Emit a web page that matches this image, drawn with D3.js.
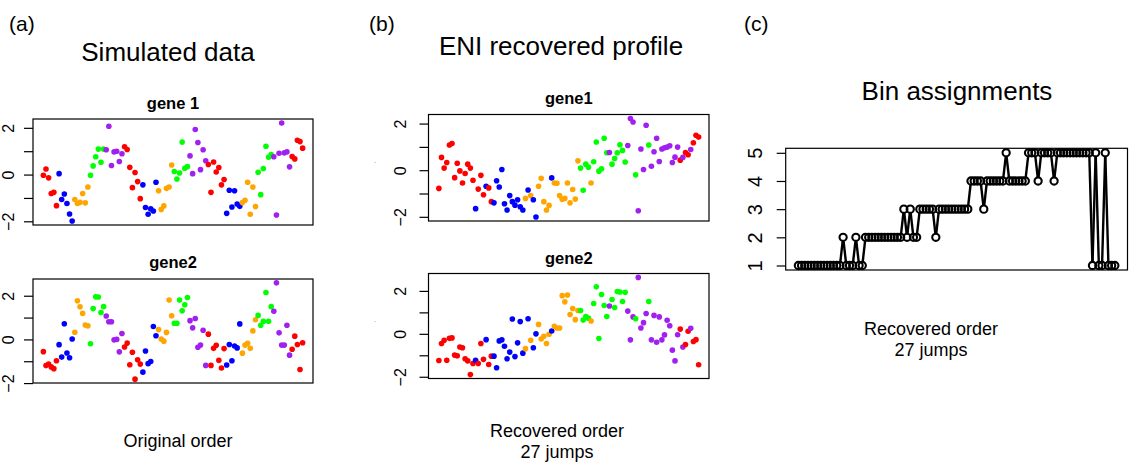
<!DOCTYPE html>
<html>
<head>
<meta charset="utf-8">
<script src="https://cdn.jsdelivr.net/npm/d3@7"></script>
<style>
  html, body { margin: 0; padding: 0; background: #fff; }
  svg { display: block; font-family: "Liberation Sans", Arial, Helvetica, sans-serif; }
</style>
</head>
<body>
<svg id="chart" width="1129" height="467"></svg>
<script>
// Bin labels 1..5 and the colour used for each bin
const binColors = ["#FF0000", "#0000FF", "#FFA500", "#00FF00", "#A020F0"];

// (a) simulated data in original order
const simBin = [
  1,1,1,1,1,1, 2,2,2,2,2,2, 3,3,3,3,3,3, 4,4,4,4,4,4, 5,5,5,5,5,5,5,
  1,1,1,1,1,1,1, 2,2,2,2,2,2, 3,3,3,3,3,3, 4,4,4,4,4,4, 5,5,5,5,5,5,5,
  1,1,1,1,1,1,1, 2,2,2,2,2,2, 3,3,3,3,3,3, 4,4,4,4,4,4, 5,5,5,5,5,5,5,
  1,1,1,1,1
];
const simGene1 = [
  -0.03, 0.24, -0.14, -0.81, -0.76, -1.33,
  0.04, -1.07, -0.83, -1.24, -1.69, -1.99,
  -1.07, -1.24, -1.19, -0.81, -1.21, -0.53,
  -0.03, 0.37, 0.76, 1.09, 0.53, 1.09,
  1.06, 2.07, 0.39, 0.97, 1.00, 0.56, 0.89,
  1.19, 1.07, 0.31, -0.56, 0.09, -0.30, -1.03,
  -0.44, -1.41, -1.70, -1.47, -1.56, -0.33,
  -0.69, -1.49, -1.34, -0.59, -0.53, 0.41,
  0.13, -0.19, 0.07, 1.39, 0.27, 0.34,
  0.80, 0.04, 1.93, 1.37, 0.21, 1.06, 0.59,
  0.43, -0.76, 0.54, 0.11, 0.30, -0.44, -0.21,
  -1.66, -0.67, -1.39, -0.69, -1.26, -1.36,
  -1.20, -1.10, -0.33, -1.70, -0.53, -1.37,
  0.10, -0.86, 0.26, 1.21, 0.74, 0.86,
  0.76, -1.73, 0.91, 2.21, 0.93, 0.97, 0.33,
  0.77, 0.67, 1.47, 1.41, 1.13
];
const simGene2 = [
  -0.56, -1.20, -1.13, -1.26, -1.34, -0.98,
  -0.24, -0.81, 0.72, -0.62, -0.84, 0.02,
  0.33, 1.77, 1.49, 1.19, 0.66, 0.62,
  -0.20, 1.41, 1.95, 1.94, 1.23, 1.50,
  1.07, 0.81, 0.81, -0.02, 0.00, -0.57, 0.27,
  -0.35, -0.17, -1.16, -0.59, -1.82, -0.93, -1.13,
  -1.50, -0.53, -1.11, -1.01, 0.59, 0.17,
  0.45, 0.02, -0.08, 0.32, 1.80, 1.08,
  0.74, 0.74, 1.80, 1.31, 1.59, 1.92,
  0.86, 0.53, 0.96, -0.36, -0.26, 0.42, -1.19,
  0.24, -1.19, -0.41, -0.27, -0.96, -1.31, -0.42,
  -1.17, -0.23, -0.98, -0.30, -0.39, 0.71,
  -0.63, -0.26, -0.18, -0.41, 0.39, 0.90,
  1.10, 0.65, 0.83, 2.15, 0.83, 1.50,
  1.29, 2.59, 0.30, -0.26, -0.26, 0.65, -0.72,
  -0.45, 0.15, -0.23, -1.38, -0.15
];

// (b)/(c) samples in the order recovered by ENI, with their bin labels
const recBin = [
  1,1,1,1,1,1,1,1,1,1,1,1,1,1, 2, 1,1,1, 2, 1,1,
  2,2,2,2,2,2,2,2,2,2,2,2, 3, 2, 3, 2,2, 3,3,3,3,3, 2,
  3,3,3,3,3,3,3,3,3,3, 4,4,4,4, 3, 4,4,4,4,4,4, 5,
  4,4,4,4,4,4, 5,5,5, 4, 5,5,5,5, 4, 5,5,5,5,5,5,5,5,5,5,5,
  1, 5, 1,1, 5, 1,1,1
];
const recGene1 = [
  -0.78, 0.55, 0.09, 0.33, 1.08, 1.14, -0.32, 0.30, -0.03, -0.55,
  -0.14, 0.26, 0.09, -0.43, -1.65, -0.81, -0.22, -1.05, -0.69, -0.76,
  -1.35, -1.40, -0.45, -0.72, 0.03, -1.44, -1.71, -1.09, -1.35, -1.50,
  -1.27, -1.57, -1.71, -1.21, -0.85, -1.09, -1.27, -2.01, -0.69, -0.35,
  -1.35, -1.71, -1.51, -0.33, -0.55, -0.56, -1.09, -1.25, -1.21, -0.55,
  -1.40, -0.83, -1.24, 0.40, 0.09, -0.86, 0.26, 0.13, -0.55, 0.36,
  1.21, -0.04, 0.06, 1.37, 0.75, 0.76, 0.26, 0.50, 0.75, 1.09,
  0.85, 0.35, 1.06, 2.22, 2.07, -0.20, -1.74, 0.91, 0.03, 1.93,
  1.08, 0.17, 0.79, 1.37, 0.37, 0.91, 0.96, 0.99, 1.05, 0.33,
  0.56, 0.99, 0.43, 0.55, 0.76, 0.66, 0.89, 1.18, 1.50, 1.42
];
const recGene2 = [
  -1.24, -0.45, -0.30, -1.23, -0.21, -0.19, -0.99, -1.02, -0.61, -0.65,
  -1.16, -1.26, -1.90, -1.38, -1.23, -1.38, -0.45, -1.19, -0.27, -1.43,
  -1.04, -1.04, -1.58, -0.33, -0.28, -0.58, -1.16, -0.85, 0.69, -1.06,
  -0.42, 0.57, -0.90, -0.69, 0.70, -0.30, -0.65, 0.00, 0.44, -0.24,
  -0.11, -0.45, -0.02, 0.13, 0.35, 0.27, 0.27, 1.78, 1.49, 1.81,
  0.90, 1.18, 0.66, 1.09, 1.09, 0.64, 0.81, 0.73, 0.60, 1.41,
  2.19, -0.22, 1.83, 1.32, 0.81, 1.30, 1.60, 1.23, 1.97, 1.95,
  1.51, 1.94, 1.06, -0.28, 0.79, 0.70, 2.63, 0.27, 0.52, 0.95,
  1.51, -0.28, 0.86, -0.39, 0.79, -0.28, -0.05, 0.63, 0.38, -0.76,
  -1.26, -0.04, 0.22, -0.61, -0.50, 0.12, 0.26, -0.36, -0.27, -1.44
];

const geneTicks = [-2, -1, 0, 1, 2];
const geneTickLabels = ["\u22122", "", "0", "", "2"];
const binTicks = [1, 2, 3, 4, 5];

const svg = d3.select("#chart");

// R-style axis range: data range widened by 4% on each side
function padded(lo, hi) {
  const r = hi - lo;
  return [lo - 0.04 * r, hi + 0.04 * r];
}

function frame(g, x0, x1, y0, y1) {
  g.append("rect")
    .attr("x", x0).attr("y", y0)
    .attr("width", x1 - x0).attr("height", y1 - y0)
    .attr("fill", "none").attr("stroke", "#000").attr("stroke-width", 1.2);
}

function leftAxis(g, y, x0, ticks, labels, gap, fontSize) {
  const ax = g.append("g")
    .attr("transform", `translate(${x0},0)`)
    .call(d3.axisLeft(y).tickValues(ticks).tickSize(9)
      .tickFormat((d, i) => labels[i]));
  ax.select(".domain").remove();
  ax.selectAll(".tick line").attr("stroke", "#000").attr("stroke-width", 1.2);
  ax.selectAll(".tick text")
    .attr("transform", "rotate(-90)")
    .attr("x", 0).attr("y", -gap).attr("dy", 0)
    .attr("text-anchor", "middle")
    .attr("fill", "#000")
    .style("font-size", fontSize + "px")
    .style("font-family", "'Liberation Sans', Arial, Helvetica, sans-serif");
}

function genePanel(opt) {
  const g = svg.append("g");
  const n = opt.values.length;
  const x = d3.scaleLinear().domain(padded(1, n)).range([opt.x0, opt.x1]);
  const y = d3.scaleLinear()
    .domain(padded(d3.min(opt.values), d3.max(opt.values)))
    .range([opt.y1, opt.y0]);

  g.selectAll("circle")
    .data(opt.values)
    .join("circle")
    .attr("cx", (d, i) => x(i + 1))
    .attr("cy", d => y(d))
    .attr("r", 2.8)
    .attr("fill", (d, i) => binColors[opt.bins[i] - 1]);

  frame(g, opt.x0, opt.x1, opt.y0, opt.y1);
  leftAxis(g, y, opt.x0, geneTicks, geneTickLabels, opt.gap, 16);

  g.append("text")
    .attr("x", (opt.x0 + opt.x1) / 2).attr("y", opt.titleY)
    .attr("text-anchor", "middle")
    .style("font-size", "16.5px").style("font-weight", "bold")
    .text(opt.title);
}

// (a) simulated data
genePanel({ values: simGene1, bins: simBin, x0: 33, x1: 313, y0: 119, y1: 225,
            gap: 19.5, title: "gene 1", titleY: 109 });
genePanel({ values: simGene2, bins: simBin, x0: 33, x1: 313, y0: 279, y1: 383,
            gap: 19.5, title: "gene2", titleY: 268 });

// (b) recovered profile
genePanel({ values: recGene1, bins: recBin, x0: 428.5, x1: 709, y0: 114.5, y1: 221,
            gap: 23, title: "gene1", titleY: 104 });
genePanel({ values: recGene2, bins: recBin, x0: 428.5, x1: 709, y0: 273.5, y1: 378.5,
            gap: 23, title: "gene2", titleY: 264 });

// faint y-axis labels of the (b) panels
[163, 322].forEach(yy => {
  svg.append("text").attr("x", 375).attr("y", yy)
    .attr("text-anchor", "middle").attr("fill", "#888")
    .style("font-size", "8px").text(".");
});

// (c) bin assignments along the recovered order, drawn like R type="b"
(function binPanel() {
  const x0 = 785.7, x1 = 1127.5, y0 = 148.3, y1 = 270;
  const g = svg.append("g");
  const n = recBin.length;
  const x = d3.scaleLinear().domain(padded(1, n)).range([x0, x1]);
  const y = d3.scaleLinear().domain(padded(1, 5)).range([y1, y0]);
  const pts = recBin.map((b, i) => [x(i + 1), y(b)]);
  const gapR = 3.8;
  const segs = [];
  for (let i = 1; i < pts.length; i++) {
    const [ax, ay] = pts[i - 1], [bx, by] = pts[i];
    const dx = bx - ax, dy = by - ay, d = Math.hypot(dx, dy);
    if (d > 2 * gapR) {
      const ux = dx / d, uy = dy / d;
      segs.push([ax + ux * gapR, ay + uy * gapR, bx - ux * gapR, by - uy * gapR]);
    }
  }
  g.selectAll("line.seg").data(segs).join("line")
    .attr("class", "seg")
    .attr("x1", d => d[0]).attr("y1", d => d[1])
    .attr("x2", d => d[2]).attr("y2", d => d[3])
    .attr("stroke", "#000").attr("stroke-width", 2.4);
  g.selectAll("circle").data(pts).join("circle")
    .attr("cx", d => d[0]).attr("cy", d => d[1])
    .attr("r", 3.6)
    .attr("fill", "none").attr("stroke", "#000").attr("stroke-width", 2.1);
  frame(g, x0, x1, y0, y1);
  leftAxis(g, y, x0, binTicks, binTicks.map(String), 24, 20);
})();

// panel letters, titles and captions
function label(txt, x, y, size, anchor) {
  svg.append("text").attr("x", x).attr("y", y)
    .attr("text-anchor", anchor || "middle")
    .style("font-size", size + "px").text(txt);
}
label("(a)", 9, 31, 21, "start");
label("(b)", 369, 31, 21, "start");
label("(c)", 744, 31, 21, "start");
label("Simulated data", 168, 61, 26);
label("ENI recovered profile", 561, 55, 26);
label("Bin assignments", 957, 100, 26);
label("Original order", 178, 447, 18);
label("Recovered order", 557, 437, 18);
label("27 jumps", 557, 458, 18);
label("Recovered order", 931, 335, 18);
label("27 jumps", 931, 356, 18);
</script>
</body>
</html>
